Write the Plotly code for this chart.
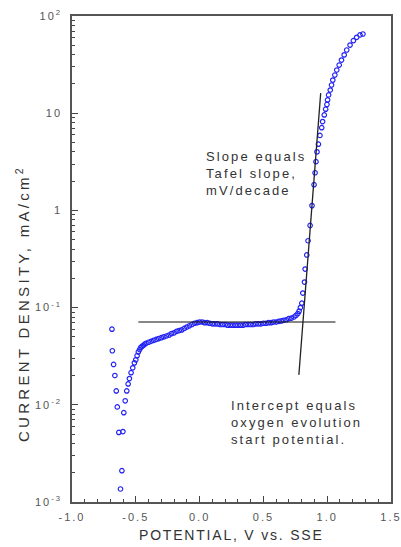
import plotly.graph_objects as go

# Polarization curve (potential in V vs SSE, current density in mA/cm^2)
potential = [
    -0.687, -0.684, -0.674, -0.664, -0.653, -0.645, -0.633, -0.620, -0.609, -0.601,
    -0.594, -0.583, -0.571, -0.560, -0.550, -0.537, -0.524, -0.511, -0.500, -0.490,
    -0.480, -0.470, -0.460, -0.450, -0.440, -0.430, -0.420, -0.400, -0.380, -0.360,
    -0.340, -0.320, -0.300, -0.280, -0.260, -0.240, -0.220, -0.200, -0.180, -0.160,
    -0.140, -0.120, -0.100, -0.080, -0.060, -0.040, -0.020, 0.000, 0.020, 0.040,
    0.060, 0.080, 0.100, 0.120, 0.140, 0.160, 0.180, 0.200, 0.220, 0.240,
    0.260, 0.280, 0.300, 0.320, 0.340, 0.360, 0.380, 0.400, 0.420, 0.440,
    0.460, 0.480, 0.500, 0.520, 0.540, 0.560, 0.580, 0.600, 0.620, 0.640,
    0.660, 0.680, 0.700, 0.720, 0.740, 0.755, 0.770, 0.780, 0.790, 0.801,
    0.809, 0.822, 0.827, 0.840, 0.850, 0.866, 0.881, 0.897, 0.905, 0.912,
    0.920, 0.931, 0.943, 0.957, 0.964, 0.977, 0.988, 0.998, 1.003, 1.011,
    1.024, 1.034, 1.044, 1.060, 1.075, 1.094, 1.112, 1.133, 1.153, 1.179,
    1.205, 1.231, 1.257, 1.280,
]
current = [
    0.060, 0.036, 0.026, 0.020, 0.0139, 0.0095, 0.0052, 0.00136, 0.0021, 0.0053,
    0.0083, 0.011, 0.0139, 0.0164, 0.0186, 0.0214, 0.024, 0.027, 0.029, 0.032,
    0.035, 0.037, 0.039, 0.040, 0.041, 0.042, 0.043, 0.044, 0.045, 0.046,
    0.047, 0.048, 0.049, 0.050, 0.051, 0.052, 0.054, 0.055, 0.057, 0.058,
    0.059, 0.061, 0.063, 0.065, 0.067, 0.069, 0.070, 0.071, 0.071, 0.070,
    0.070, 0.069, 0.068, 0.068, 0.068, 0.067, 0.067, 0.067, 0.066, 0.066,
    0.066, 0.066, 0.066, 0.066, 0.066, 0.067, 0.067, 0.067, 0.067, 0.068,
    0.068, 0.068, 0.069, 0.069, 0.070, 0.070, 0.071, 0.071, 0.072, 0.073,
    0.074, 0.075, 0.077, 0.078, 0.080, 0.083, 0.087, 0.092, 0.100, 0.111,
    0.141, 0.183, 0.249, 0.348, 0.487, 0.70, 1.12, 1.84, 2.44, 3.17,
    4.0, 4.8, 5.9, 7.1, 8.2, 9.6, 11.0, 12.3, 13.7, 15.4,
    17.3, 19.5, 21.9, 24.7, 27.8, 31.3, 35.2, 39.8, 44.7, 50.2,
    55.7, 60.3, 63.8, 65.3,
]

# Construction lines
passive_line_x = [-0.48, 1.065]
passive_line_y = [0.071, 0.071]
tafel_line_x = [0.778, 0.949]
tafel_line_y = [0.0203, 16.1]

x_tickvals = [-1.0, -0.5, 0.0, 0.5, 1.0, 1.5]
x_ticktext = ["-1.0", "-0.5", "0.0", "0.5", "1.0", "1.5"]
y_tickvals = [0.001, 0.01, 0.1, 1, 10, 100]
y_ticktext = ["10<sup>-3</sup>", "10<sup>-2</sup>", "10<sup>-1</sup>", "1", "10", "10<sup>2</sup>"]
y_minor = [k * 10.0 ** e for e in range(-3, 2) for k in range(2, 10)]

FONT = "Liberation Sans, Arial, sans-serif"

fig = go.Figure()
fig.add_trace(go.Scatter(
    x=potential, y=current, mode="markers",
    marker=dict(symbol="circle-open", size=4.5, color="rgb(35,35,245)",
                line=dict(width=1.2, color="rgb(35,35,245)")),
    showlegend=False, hoverinfo="skip",
))
fig.add_trace(go.Scatter(
    x=passive_line_x, y=passive_line_y, mode="lines",
    line=dict(color="#111111", width=1.1), showlegend=False, hoverinfo="skip",
))
fig.add_trace(go.Scatter(
    x=tafel_line_x, y=tafel_line_y, mode="lines",
    line=dict(color="#222222", width=1.3), showlegend=False, hoverinfo="skip",
))

axis_common = dict(
    showgrid=False, zeroline=False, showline=True, mirror=True,
    linecolor="#555555", linewidth=1.5, automargin=False,
    ticks="inside", ticklen=6, tickwidth=1, tickcolor="#444444",
    tickfont=dict(family=FONT, size=11, color="#555555"),
)

fig.update_xaxes(
    range=[-1.0, 1.5], tickmode="array", tickvals=x_tickvals, ticktext=x_ticktext,
    minor=dict(ticks="inside", ticklen=3, dtick=0.1, tick0=0, tickcolor="#444444", showgrid=False),
    ticklabelstandoff=4,
    **axis_common,
)
fig.update_yaxes(
    type="log", range=[-3, 2], tickmode="array", tickvals=y_tickvals, ticktext=y_ticktext,
    minor=dict(ticks="inside", ticklen=3, tickvals=y_minor, tickcolor="#444444", showgrid=False),
    ticklabelstandoff=6,
    **axis_common,
)

fig.update_layout(
    width=401, height=547, autosize=False,
    margin=dict(l=72, r=10, t=16, b=45),
    paper_bgcolor="white", plot_bgcolor="white",
    font=dict(family=FONT, color="#333333"),
    annotations=[
        dict(text="Slope equals<br>Tafel slope,<br>mV/decade",
             x=0.033, xref="x", y=0.675, yref="paper",
             xanchor="left", yanchor="middle", align="left", showarrow=False,
             font=dict(family=FONT, size=13, color="#333333")),
        dict(text="Intercept equals<br>oxygen evolution<br>start potential.",
             x=0.234, xref="x", y=0.1626, yref="paper",
             xanchor="left", yanchor="middle", align="left", showarrow=False,
             font=dict(family=FONT, size=13, color="#333333")),
        dict(text="CURRENT DENSITY, mA/cm<sup>2</sup>",
             x=-0.157, xref="paper", y=0.409, yref="paper",
             xanchor="center", yanchor="middle", textangle=-90, showarrow=False,
             font=dict(family=FONT, size=15, color="#333333")),
        dict(text="POTENTIAL, V vs. SSE",
             x=0.5, xref="paper", y=1 - (535 - 16) / 486.0, yref="paper",
             xanchor="center", yanchor="middle",
             showarrow=False, font=dict(family=FONT, size=14, color="#333333")),
    ],
)

spacing_js = """
document.body.style.margin = '0';
document.body.style.padding = '0';
var gd = document.getElementById('{plot_id}');
function applySpacing(){
  gd.querySelectorAll('.xtick text, .ytick text').forEach(function(t){t.style.letterSpacing='2px';});
  var anns = gd.querySelectorAll('.annotation');
  anns.forEach(function(a){
    var idx = a.getAttribute('data-index');
    var sp = '2.1px';
    if (idx === '2') sp = '3.3px';
    if (idx === '3') sp = '1.8px';
    a.querySelectorAll('text').forEach(function(t){t.style.letterSpacing=sp;});
  });
}
applySpacing();
gd.on('plotly_afterplot', applySpacing);
"""

fig.write_html("out.html", post_script=spacing_js,
               config={"displayModeBar": False, "responsive": False})
